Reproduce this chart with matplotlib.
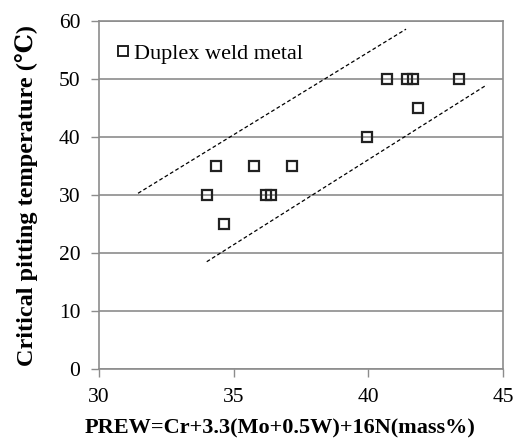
import matplotlib
matplotlib.use("Agg")
import matplotlib.pyplot as plt

prew = [40.7, 41.45, 41.65, 43.35, 41.85, 39.95, 34.35, 35.75, 37.15, 34.0, 36.2, 36.4, 34.65]
cpt = [50, 50, 50, 50, 45, 40, 35, 35, 35, 30, 30, 30, 25]

upper_x = [31.45, 41.4]
upper_y = [30.3, 58.6]
lower_x = [34.0, 44.4]
lower_y = [18.5, 49.0]

xticks = [30, 35, 40, 45]
yticks = [0, 10, 20, 30, 40, 50, 60]

plt.rcParams['font.family'] = ['Liberation Serif', 'DejaVu Serif']

fig = plt.figure(figsize=(5.13, 4.38), dpi=100)
ax = fig.add_axes([0.193, 0.1575, 0.7875, 0.7945])

gray = '#8c8c8c'
for y in yticks:
    ax.axhline(y, color=gray, lw=1.2, zorder=1)

ax.plot(upper_x, upper_y, color='black', lw=0.9, ls=(0, (3, 2)), zorder=2)
ax.plot(lower_x, lower_y, color='black', lw=0.9, ls=(0, (3, 2)), zorder=2)

ax.plot(prew, cpt, ls='none', marker='s', markersize=7.5, markerfacecolor='none',
        markeredgecolor='#222222', markeredgewidth=1.6, zorder=3, label='Duplex weld metal')

ax.set_xlim(30, 45)
ax.set_ylim(0, 60)
ax.set_xticks(xticks)
ax.set_yticks(yticks)
ax.tick_params(direction='out', length=5.5, width=1, color=gray, labelsize=15.5, pad=8)
for s in ax.spines.values():
    s.set_color(gray)
    s.set_linewidth(1.2)

ax.set_xlabel('PREW=Cr+3.3(Mo+0.5W)+16N(mass%)', fontsize=16, fontweight='bold')
ax.xaxis.set_label_coords(0.447, -0.143)
ax.set_ylabel('Critical pitting temperature (℃)', fontsize=17.5, fontweight='bold',
              family=['Liberation Serif', 'DejaVu Serif', 'Noto Sans CJK SC'])
ax.yaxis.set_label_coords(-0.152, 0.5)

leg = ax.legend(loc='upper left', frameon=False, fontsize=16, handlelength=0.6,
                handletextpad=0.2, borderaxespad=0.3, bbox_to_anchor=(0.005, 0.98))
leg.legend_handles[0].set_markersize(7)
leg.legend_handles[0].set_markeredgewidth(1.4)

fig.savefig('out.png', dpi=100)
